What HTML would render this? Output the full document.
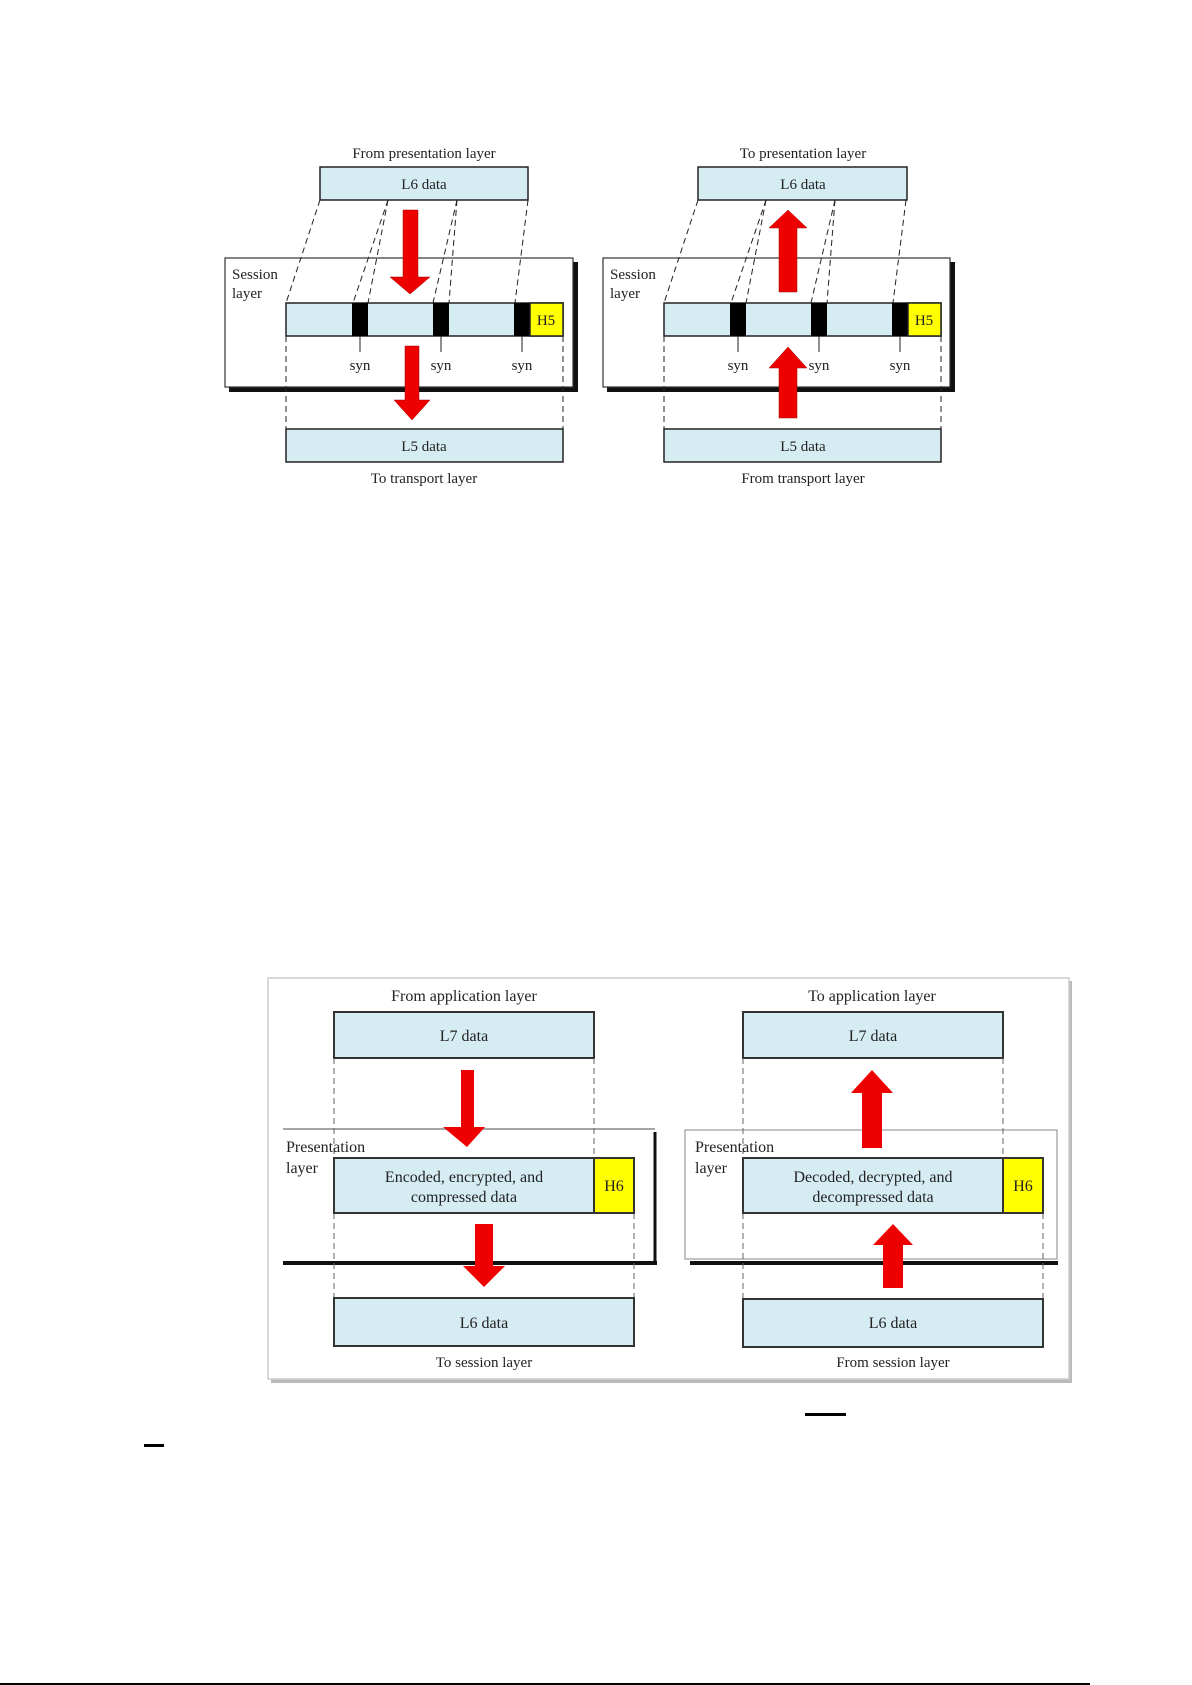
<!DOCTYPE html>
<html><head><meta charset="utf-8"><style>
html,body{margin:0;padding:0;background:#fff;}
svg{display:block;}
text{font-family:"Liberation Serif",serif;fill:#222;}
</style></head><body>
<svg width="1192" height="1685" viewBox="0 0 1192 1685" xmlns="http://www.w3.org/2000/svg">
<!-- ===== TOP LEFT ===== -->
<text x="424" y="158" font-size="15" text-anchor="middle">From presentation layer</text>
<rect x="320" y="167" width="208" height="33" fill="#d6ecf3" stroke="#222" stroke-width="1.5"/>
<text x="424" y="189" font-size="15" text-anchor="middle">L6 data</text>
<rect x="229" y="262" width="349" height="130" fill="#111"/>
<rect x="225" y="258" width="348" height="129" fill="#fff" stroke="#333" stroke-width="1.2"/>
<text x="232" y="279" font-size="15">Session</text>
<text x="232" y="298" font-size="15">layer</text>
<g stroke="#222" stroke-width="1" stroke-dasharray="6,4" fill="none">
<line x1="320" y1="200" x2="286" y2="303"/>
<line x1="388" y1="200" x2="353" y2="303"/>
<line x1="388" y1="200" x2="368" y2="303"/>
<line x1="457" y1="200" x2="433" y2="303"/>
<line x1="457" y1="200" x2="449" y2="303"/>
<line x1="528" y1="200" x2="515" y2="303"/>
<line x1="286" y1="336" x2="286" y2="429"/>
<line x1="563" y1="336" x2="563" y2="429"/>
</g>
<rect x="286" y="303" width="277" height="33" fill="#d6ecf3" stroke="#222" stroke-width="1.5"/>
<rect x="352" y="303" width="16" height="33" fill="#000"/>
<rect x="433" y="303" width="16" height="33" fill="#000"/>
<rect x="514" y="303" width="16" height="33" fill="#000"/>
<rect x="530" y="303" width="33" height="33" fill="#ffff00" stroke="#222" stroke-width="1.5"/>
<text x="546" y="325" font-size="15" text-anchor="middle">H5</text>
<g stroke="#222" stroke-width="1"><line x1="360" y1="336" x2="360" y2="352"/><line x1="441" y1="336" x2="441" y2="352"/><line x1="522" y1="336" x2="522" y2="352"/></g>
<text x="360" y="370" font-size="15" text-anchor="middle">syn</text>
<text x="441" y="370" font-size="15" text-anchor="middle">syn</text>
<text x="522" y="370" font-size="15" text-anchor="middle">syn</text>
<polygon points="403,210 418,210 418,277 430,277 410,294 390,277 403,277" fill="#e00" stroke="#900" stroke-width="0.5"/>
<polygon points="405,346 419,346 419,400 430,400 412,420 394,400 405,400" fill="#e00" stroke="#900" stroke-width="0.5"/>
<rect x="286" y="429" width="277" height="33" fill="#d6ecf3" stroke="#222" stroke-width="1.5"/>
<text x="424" y="451" font-size="15" text-anchor="middle">L5 data</text>
<text x="424" y="483" font-size="15" text-anchor="middle">To transport layer</text>

<!-- ===== TOP RIGHT ===== -->
<text x="803" y="158" font-size="15" text-anchor="middle">To presentation layer</text>
<rect x="698" y="167" width="209" height="33" fill="#d6ecf3" stroke="#222" stroke-width="1.5"/>
<text x="803" y="189" font-size="15" text-anchor="middle">L6 data</text>
<rect x="607" y="262" width="348" height="130" fill="#111"/>
<rect x="603" y="258" width="347" height="129" fill="#fff" stroke="#333" stroke-width="1.2"/>
<text x="610" y="279" font-size="15">Session</text>
<text x="610" y="298" font-size="15">layer</text>
<g stroke="#222" stroke-width="1" stroke-dasharray="6,4" fill="none">
<line x1="698" y1="200" x2="664" y2="303"/>
<line x1="766" y1="200" x2="731" y2="303"/>
<line x1="766" y1="200" x2="746" y2="303"/>
<line x1="835" y1="200" x2="811" y2="303"/>
<line x1="835" y1="200" x2="827" y2="303"/>
<line x1="906" y1="200" x2="893" y2="303"/>
<line x1="664" y1="336" x2="664" y2="429"/>
<line x1="941" y1="336" x2="941" y2="429"/>
</g>
<rect x="664" y="303" width="277" height="33" fill="#d6ecf3" stroke="#222" stroke-width="1.5"/>
<rect x="730" y="303" width="16" height="33" fill="#000"/>
<rect x="811" y="303" width="16" height="33" fill="#000"/>
<rect x="892" y="303" width="16" height="33" fill="#000"/>
<rect x="908" y="303" width="33" height="33" fill="#ffff00" stroke="#222" stroke-width="1.5"/>
<text x="924" y="325" font-size="15" text-anchor="middle">H5</text>
<g stroke="#222" stroke-width="1"><line x1="738" y1="336" x2="738" y2="352"/><line x1="819" y1="336" x2="819" y2="352"/><line x1="900" y1="336" x2="900" y2="352"/></g>
<text x="738" y="370" font-size="15" text-anchor="middle">syn</text>
<text x="819" y="370" font-size="15" text-anchor="middle">syn</text>
<text x="900" y="370" font-size="15" text-anchor="middle">syn</text>
<polygon points="788,210 807,228 797,228 797,292 779,292 779,228 769,228" fill="#e00" stroke="#900" stroke-width="0.5"/>
<polygon points="788,347 807,368 797,368 797,418 779,418 779,368 769,368" fill="#e00" stroke="#900" stroke-width="0.5"/>
<rect x="664" y="429" width="277" height="33" fill="#d6ecf3" stroke="#222" stroke-width="1.5"/>
<text x="803" y="451" font-size="15" text-anchor="middle">L5 data</text>
<text x="803" y="483" font-size="15" text-anchor="middle">From transport layer</text>

<!-- ===== BOTTOM FRAME ===== -->
<rect x="271" y="981" width="801" height="402" fill="#bbb"/>
<rect x="268" y="978" width="801" height="401" fill="#fff" stroke="#ccc" stroke-width="1.5"/>
<!-- left -->
<text x="464" y="1001" font-size="16" text-anchor="middle" fill="#444">From application layer</text>
<rect x="334" y="1012" width="260" height="46" fill="#d6ecf3" stroke="#333" stroke-width="2"/>
<text x="464" y="1041" font-size="16" text-anchor="middle" fill="#333">L7 data</text>
<line x1="283" y1="1129" x2="655" y2="1129" stroke="#888" stroke-width="1.5"/>
<line x1="655" y1="1132" x2="655" y2="1264" stroke="#111" stroke-width="3"/>
<line x1="283" y1="1263" x2="657" y2="1263" stroke="#111" stroke-width="4"/>
<g stroke="#666" stroke-width="1" stroke-dasharray="6,4" fill="none">
<line x1="334" y1="1058" x2="334" y2="1158"/><line x1="594" y1="1058" x2="594" y2="1158"/>
<line x1="334" y1="1213" x2="334" y2="1298"/><line x1="634" y1="1213" x2="634" y2="1298"/>
</g>
<text x="286" y="1152" font-size="16" fill="#444">Presentation</text>
<text x="286" y="1173" font-size="16" fill="#444">layer</text>
<rect x="334" y="1158" width="260" height="55" fill="#d6ecf3" stroke="#333" stroke-width="2"/>
<rect x="594" y="1158" width="40" height="55" fill="#ffff00" stroke="#333" stroke-width="2"/>
<text x="464" y="1182" font-size="16" text-anchor="middle" fill="#444">Encoded, encrypted, and</text>
<text x="464" y="1202" font-size="16" text-anchor="middle" fill="#444">compressed data</text>
<text x="614" y="1191" font-size="16" text-anchor="middle" fill="#444">H6</text>
<polygon points="461,1070 474,1070 474,1127 485,1127 467,1147 443,1127 461,1127" fill="#e00"/>
<polygon points="475,1224 493,1224 493,1266 505,1266 484,1287 463,1266 475,1266" fill="#e00"/>
<rect x="334" y="1298" width="300" height="48" fill="#d6ecf3" stroke="#333" stroke-width="2"/>
<text x="484" y="1328" font-size="16" text-anchor="middle" fill="#333">L6 data</text>
<text x="484" y="1367" font-size="15" text-anchor="middle" fill="#555">To session layer</text>
<!-- right -->
<text x="872" y="1001" font-size="16" text-anchor="middle" fill="#444">To application layer</text>
<rect x="743" y="1012" width="260" height="46" fill="#d6ecf3" stroke="#333" stroke-width="2"/>
<text x="873" y="1041" font-size="16" text-anchor="middle" fill="#333">L7 data</text>
<rect x="685" y="1130" width="372" height="129" fill="#fff" stroke="#999" stroke-width="1.2"/>
<line x1="690" y1="1263" x2="1058" y2="1263" stroke="#111" stroke-width="4"/>
<g stroke="#666" stroke-width="1" stroke-dasharray="6,4" fill="none">
<line x1="743" y1="1058" x2="743" y2="1158"/><line x1="1003" y1="1058" x2="1003" y2="1158"/>
<line x1="743" y1="1213" x2="743" y2="1298"/><line x1="1043" y1="1213" x2="1043" y2="1298"/>
</g>
<text x="695" y="1152" font-size="16" fill="#444">Presentation</text>
<text x="695" y="1173" font-size="16" fill="#444">layer</text>
<rect x="743" y="1158" width="260" height="55" fill="#d6ecf3" stroke="#333" stroke-width="2"/>
<rect x="1003" y="1158" width="40" height="55" fill="#ffff00" stroke="#333" stroke-width="2"/>
<text x="873" y="1182" font-size="16" text-anchor="middle" fill="#444">Decoded, decrypted, and</text>
<text x="873" y="1202" font-size="16" text-anchor="middle" fill="#444">decompressed data</text>
<text x="1023" y="1191" font-size="16" text-anchor="middle" fill="#444">H6</text>
<polygon points="872,1070 893,1093 882,1093 882,1148 862,1148 862,1093 851,1093" fill="#e00"/>
<polygon points="893,1224 913,1245 903,1245 903,1288 883,1288 883,1245 873,1245" fill="#e00"/>
<rect x="743" y="1299" width="300" height="48" fill="#d6ecf3" stroke="#333" stroke-width="2"/>
<text x="893" y="1328" font-size="16" text-anchor="middle" fill="#333">L6 data</text>
<text x="893" y="1367" font-size="15" text-anchor="middle" fill="#555">From session layer</text>

<!-- marks -->
<rect x="805" y="1413" width="41" height="3" fill="#000"/>
<rect x="144" y="1444" width="20" height="3" fill="#000"/>
<rect x="0" y="1683" width="1090" height="2" fill="#000"/>
</svg>
</body></html>
